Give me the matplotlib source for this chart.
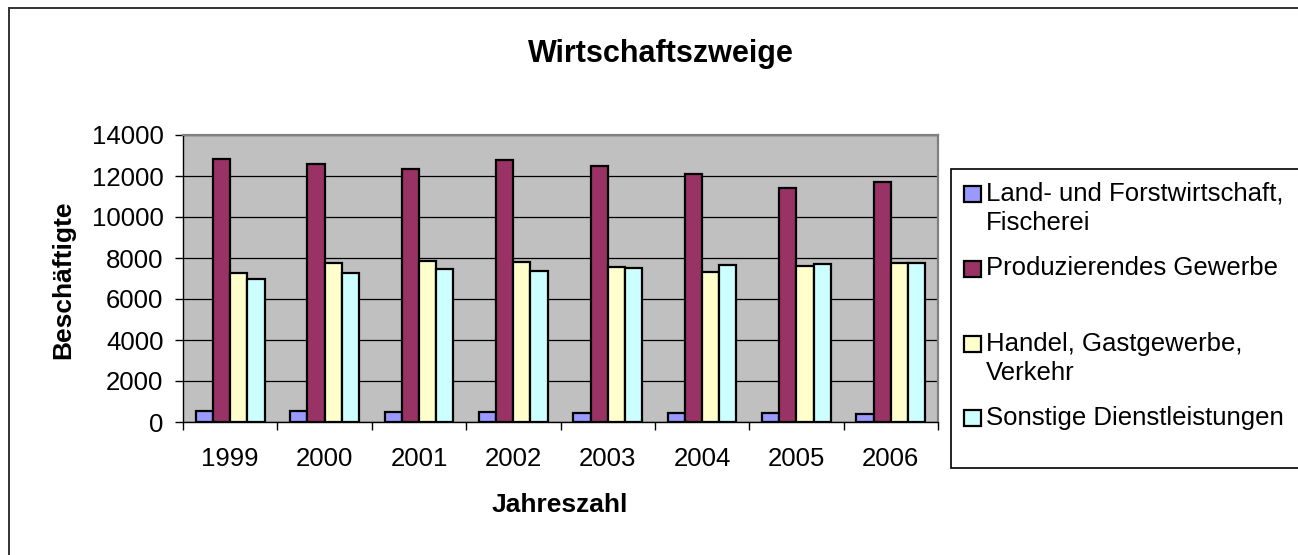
import matplotlib
matplotlib.use("Agg")
import matplotlib.pyplot as plt
from matplotlib.patches import Rectangle
import numpy as np

plt.rcParams["font.family"] = ["Liberation Sans", "DejaVu Sans"]

# ---------------- data ----------------
years = ["1999", "2000", "2001", "2002", "2003", "2004", "2005", "2006"]
series_names = ["Land- und Forstwirtschaft,\nFischerei",
                "Produzierendes Gewerbe",
                "Handel, Gastgewerbe,\nVerkehr",
                "Sonstige Dienstleistungen"]
land = [520, 540, 470, 470, 420, 420, 420, 390]
produz = [12830, 12570, 12360, 12760, 12470, 12080, 11430, 11690]
handel = [7260, 7780, 7850, 7810, 7550, 7330, 7620, 7780]
sonst = [7000, 7250, 7470, 7390, 7520, 7680, 7690, 7750]
colors = ["#9999FF", "#993366", "#FFFFCC", "#CCFFFF"]

W, H = 1298, 555
FS = 18.5
fig = plt.figure(figsize=(W / 100, H / 100), dpi=100)

# outer chart frame (right/bottom edges run off the image)
fig.patches.append(Rectangle((9 / W, -0.05), 1.1, 1 - 8 / H + 0.05,
                             transform=fig.transFigure, fill=False,
                             edgecolor="#333333", linewidth=1.4))

ax = fig.add_axes([183 / W, (H - 422) / H, (938 - 183) / W, (422 - 135) / H])
ax.set_facecolor("#C0C0C0")

x = np.arange(len(years))
bw = 1 / 5.5
for i, vals in enumerate([land, produz, handel, sonst]):
    ax.bar(x + (i - 1.5) * bw, vals, bw, color=colors[i],
           edgecolor="black", linewidth=1.6, zorder=3)

ax.set_xlim(-0.5, len(years) - 0.5)
ax.set_ylim(0, 14000)
ax.set_yticks(range(0, 14001, 2000))
ax.tick_params(axis="y", labelsize=FS, length=6, width=1, pad=8, direction="out")
ax.yaxis.grid(True, color="black", linewidth=0.9, zorder=1)
ax.set_axisbelow(True)

# category ticks between groups, labels centred under each group
ax.set_xticks(np.arange(-0.5, len(years)), minor=False)
ax.set_xticklabels([])
ax.set_xticks(x, minor=True)
ax.set_xticklabels(years, minor=True)
ax.tick_params(axis="x", which="major", length=6, width=1, direction="out")
ax.tick_params(axis="x", which="minor", length=0, labelsize=FS, pad=18)

for s in ["top", "right"]:
    ax.spines[s].set_color("#808080")
    ax.spines[s].set_linewidth(1.6)
for s in ["left", "bottom"]:
    ax.spines[s].set_color("black")
    ax.spines[s].set_linewidth(1)

fig.text(661 / W, 1 - 54 / H, "Wirtschaftszweige", ha="center", va="center",
         fontsize=22, fontweight="bold")
fig.text(63 / W, 1 - 280 / H, "Beschäftigte", ha="center", va="center",
         rotation=90, fontsize=19, fontweight="bold")
fig.text(560 / W, 1 - 505 / H, "Jahreszahl", ha="center", va="center",
         fontsize=19, fontweight="bold")

# ---------------- legend box ----------------
fig.patches.append(Rectangle((951 / W, 1 - 468 / H), 1.0, (468 - 169) / H,
                             transform=fig.transFigure, facecolor="white",
                             edgecolor="black", linewidth=1.2))
marker_y = [194, 268.5, 344, 417.5]
for i, name in enumerate(series_names):
    my = marker_y[i]
    fig.patches.append(Rectangle((964 / W, 1 - (my + 8) / H), 17 / W, 16 / H,
                                 transform=fig.transFigure, facecolor=colors[i],
                                 edgecolor="black", linewidth=1.6))
    for j, line in enumerate(name.split("\n")):
        fig.text(986 / W, 1 - (my + j * 29) / H, line, ha="left", va="center",
                 fontsize=FS)

fig.savefig("out.png", dpi=100)
